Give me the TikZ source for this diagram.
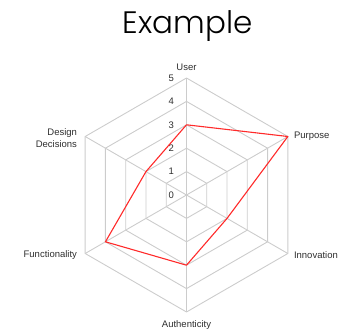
\documentclass[tikz,border=0pt]{standalone}
\usepackage{fontspec}
\setmainfont{Liberation Sans}
\newfontfamily\titlefont{Poppins Light}
\usetikzlibrary{positioning}

\definecolor{gridgray}{HTML}{CCCCCC}
\definecolor{plotred}{HTML}{FF2A2A}
\definecolor{labelgray}{HTML}{2E2E2E}

\begin{document}
\begin{tikzpicture}[
      x=1pt, y=1pt, line join=round,
      font=\fontsize{9.5}{12}\selectfont, text=labelgray,
      grid/.style={draw=gridgray, line width=0.9pt},
      series/.style={draw=plotred, line width=1.1pt},
      axislabel/.style={inner sep=1pt}
    ]

    % ------------------ Layout ------------------
    \def\unitR{23.4}
    \pgfmathsetmacro{\outerR}{5*\unitR}

    \useasboundingbox (-186.5,-136) rectangle (160.5,195);

    % ------------------ Title ------------------
    \node[anchor=base, font=\titlefont\fontsize{31}{36}\selectfont,
    text=black] (title) at (1,161.7) {Example};

    % ------------------ Axes ------------------
    \coordinate (c) at (0,0);
    \foreach \i/\ang in {1/90,2/30,3/-30,4/-90,5/-150,6/150} {
      \coordinate (ax\i) at (\ang:\outerR);
      \draw[grid] (c) -- (ax\i);
    }

    % ------------------ Hexagon rings ------------------
    \foreach \r in {1,...,5} {
      \draw[grid] (90:\r*\unitR) -- (30:\r*\unitR) -- (-30:\r*\unitR)
      -- (-90:\r*\unitR) -- (-150:\r*\unitR) -- (150:\r*\unitR) -- cycle;
    }

    % ------------------ Scale ------------------
    \foreach \r in {0,...,5} {
      \node[anchor=east, inner sep=0pt] (s\r) at (-12.5,\r*\unitR) {\r};
    }

    % ------------------ Data ------------------
    \foreach \i/\ang/\v in {1/90/3,2/30/5,3/-30/2,4/-90/3,5/-150/4,6/150/2} {
      \coordinate (p\i) at (\ang:\v*\unitR);
    }
    \draw[series] (p1) -- (p2) -- (p3) -- (p4) -- (p5) -- (p6) -- cycle;

    % ------------------ Axis labels ------------------
    \node[axislabel, above=6pt of ax1] (user) {User};
    \node[axislabel, anchor=west, xshift=5pt] (purpose) at (ax2) {Purpose};
    \node[axislabel, anchor=west, xshift=5pt, yshift=-2pt] (innov) at (ax3)
    {Innovation};
    \node[axislabel, below=7pt of ax4] (auth) {Authenticity};
    \node[axislabel, anchor=east, xshift=-7pt, yshift=-2pt] (func) at (ax5)
    {Functionality};
    \node[axislabel, anchor=east, align=right, xshift=-7pt, yshift=-2pt]
    (design) at (ax6) {Design\\Decisions};

  \end{tikzpicture}
\end{document}
